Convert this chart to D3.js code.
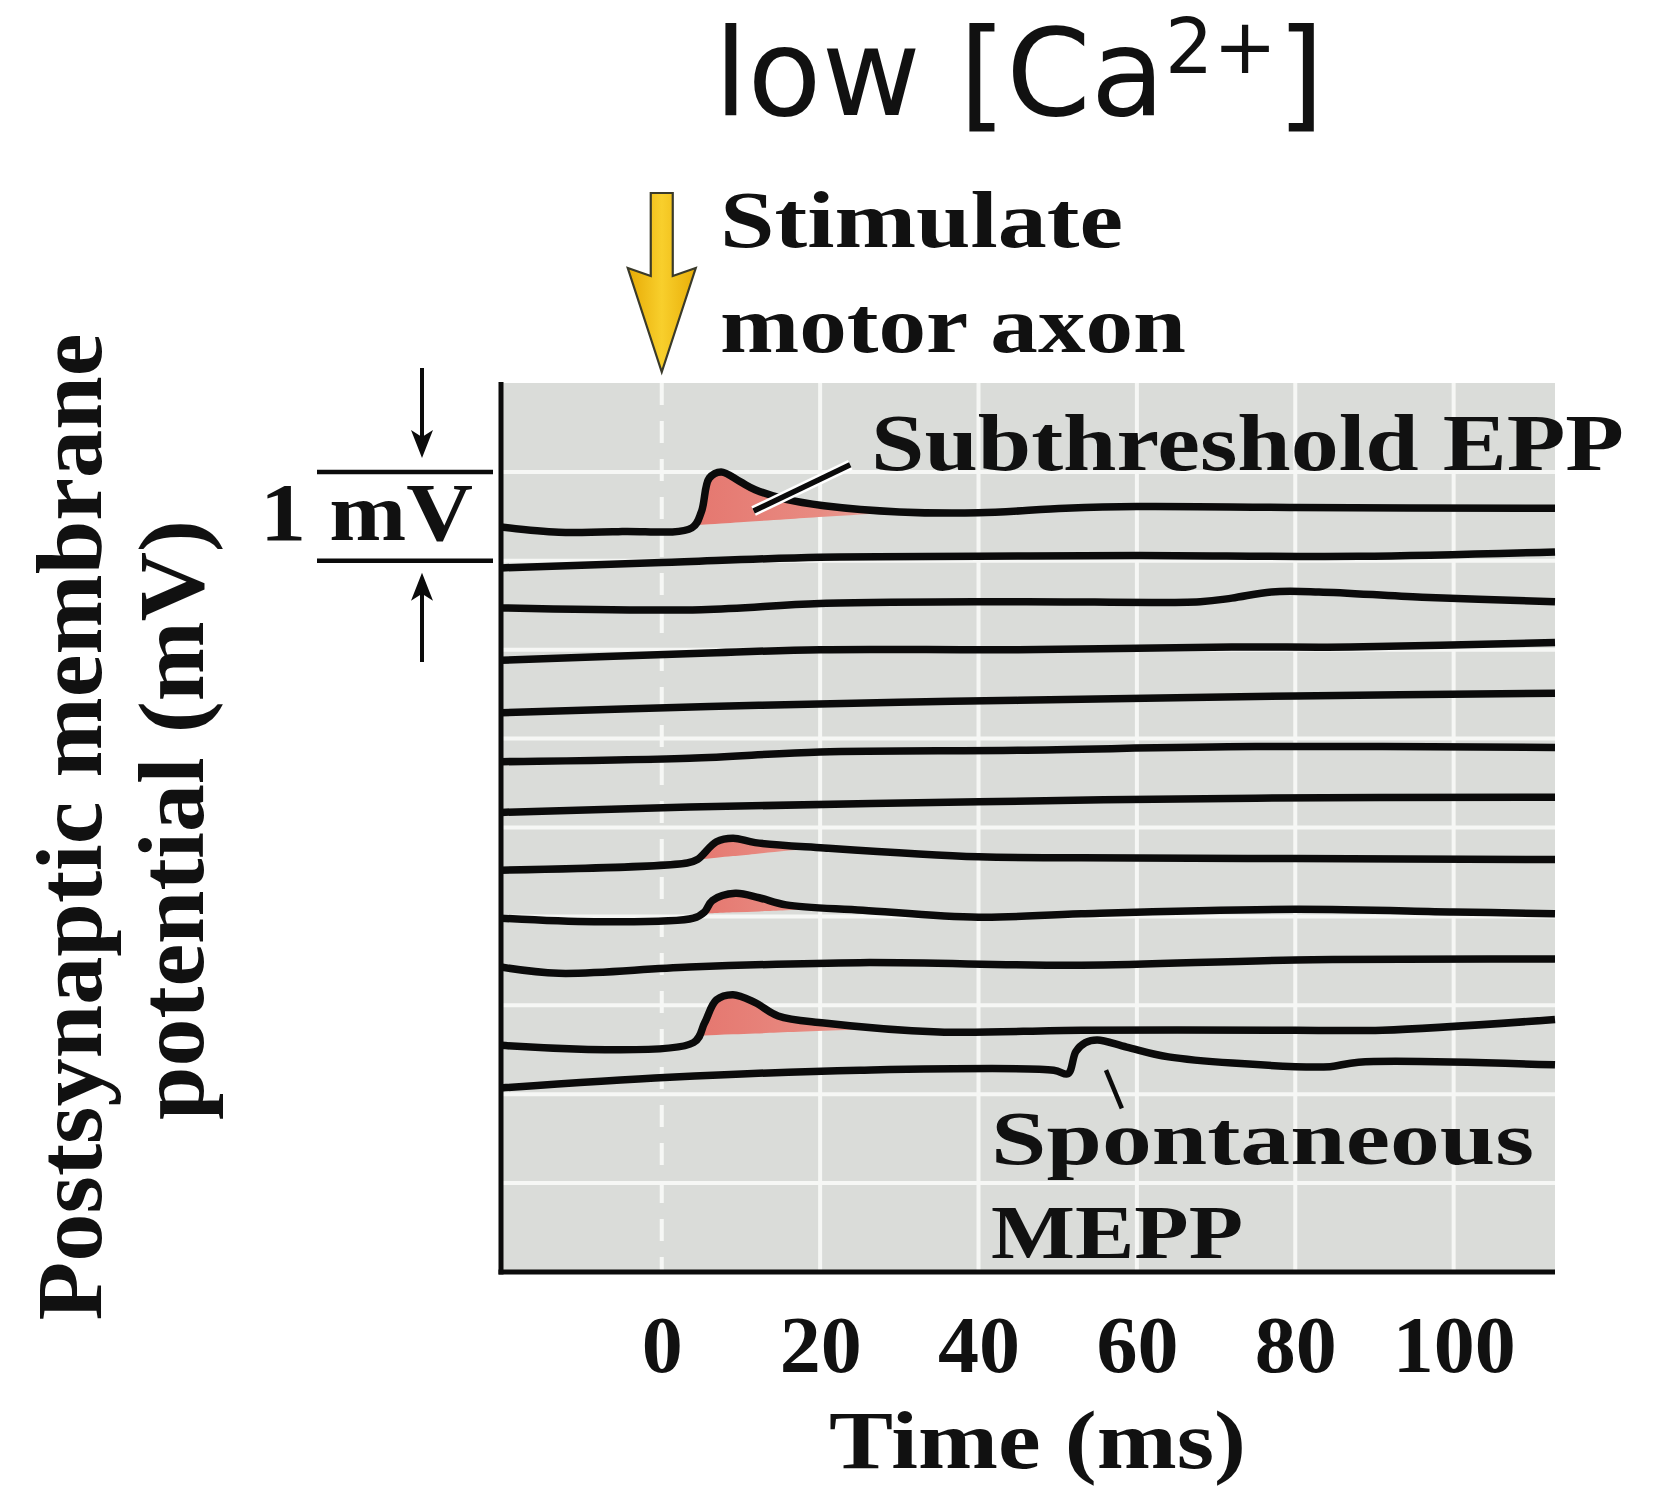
<!DOCTYPE html>
<html>
<head>
<meta charset="utf-8">
<script src="https://cdn.jsdelivr.net/npm/d3@7"></script>
<style>
  body { margin: 0; background: #fff; }
  text { fill: #111; }
</style>
</head>
<body>
<script>
// Time ticks (ms) and 1 mV gridlines
let timeTicks = [0, 20, 40, 60, 80, 100];
let gridMv = [1, 2, 3, 4, 5, 6, 7, 8, 9];

let sweep1  = [[-20.3, 8.38], [-13, 8.32], [-5, 8.33], [3.8, 8.37], [5.0, 8.55], [6.0, 8.93], [7.5, 9.0], [9.9, 8.89], [11.8, 8.80], [15.7, 8.69], [20.5, 8.62], [30, 8.55], [40, 8.54], [51, 8.59], [60, 8.61], [80, 8.60], [112.8, 8.59]];
let sweep2  = [[-20.3, 7.92], [0, 7.98], [20, 8.04], [40, 8.05], [60, 8.06], [88, 8.05], [112.8, 8.10]];
let sweep3  = [[-20.3, 7.47], [5, 7.45], [20, 7.52], [45, 7.54], [68, 7.54], [72, 7.58], [77, 7.65], [83, 7.65], [96, 7.59], [112.8, 7.54]];
let sweep4  = [[-20.3, 6.88], [5, 6.96], [20, 7.0], [45, 7.0], [72, 7.03], [87, 7.03], [112.8, 7.08]];
let sweep5  = [[-20.3, 6.29], [6, 6.36], [30, 6.41], [45, 6.43], [80, 6.48], [112.8, 6.51]];
let sweep6  = [[-20.3, 5.74], [3.5, 5.78], [20, 5.85], [45, 5.87], [75, 5.91], [112.8, 5.90]];
let sweep7  = [[-20.3, 5.17], [3.5, 5.23], [40, 5.29], [75, 5.33], [112.8, 5.34]];
let sweep8  = [[-20.3, 4.52], [3.2, 4.60], [4.5, 4.64], [6.9, 4.84], [9.0, 4.88], [11.8, 4.83], [20.5, 4.77], [40, 4.67], [53, 4.66], [80, 4.65], [112.8, 4.64]];
let sweep9  = [[-20.3, 3.98], [-8.5, 3.94], [4.0, 3.98], [5.4, 4.05], [6.4, 4.18], [9.3, 4.26], [12.3, 4.21], [15.7, 4.13], [25.4, 4.07], [40, 3.99], [53, 4.03], [80, 4.08], [100, 4.05], [112.8, 4.03]];
let sweep10 = [[-20.3, 3.43], [-13, 3.36], [3.5, 3.43], [25, 3.48], [53, 3.45], [80, 3.51], [112.8, 3.52]];
let sweep11 = [[-20.3, 2.55], [4.0, 2.58], [5.4, 2.80], [6.9, 3.06], [9.0, 3.12], [11.8, 3.03], [14.7, 2.88], [20.5, 2.80], [35, 2.70], [53, 2.72], [80, 2.72], [91, 2.72], [112.8, 2.84]];
let sweep12 = [[-20.3, 2.07], [1, 2.19], [25, 2.27], [49.5, 2.27], [51.3, 2.23], [52.3, 2.48], [53.5, 2.58], [55, 2.61], [58.7, 2.53], [64, 2.42], [80, 2.31], [84.4, 2.31], [88, 2.36], [112.8, 2.33]];
let sweeps = [sweep1, sweep2, sweep3, sweep4, sweep5, sweep6, sweep7, sweep8, sweep9, sweep10, sweep11, sweep12];

// Shaded EPPs: [sweep index, from ms, to ms]
let eppFills = [[0, 4.0, 30], [7, 4.5, 20], [8, 5.0, 22], [10, 4.5, 29]];

// Figure size
let svgWidth = 1664;
let svgHeight = 1488;

let svg = d3.select("body").append("svg")
  .attr("width", svgWidth)
  .attr("height", svgHeight);

let defs = svg.append("defs");

// Scales
let x = d3.scaleLinear().domain([-20.3, 112.8]).range([501, 1555]);
let y = d3.scaleLinear().domain([0, 10]).range([1272, 383]);

let serif = "'Liberation Serif', 'Times New Roman', serif";

// Grey panel
svg.append("rect")
  .attr("x", x(-20.3)).attr("y", y(10))
  .attr("width", x(112.8) - x(-20.3)).attr("height", y(0) - y(10))
  .attr("fill", "#dadcd9");

// White gridlines
svg.append("g").selectAll("line")
  .data(gridMv).join("line")
  .attr("x1", x(-20.3)).attr("x2", x(112.8))
  .attr("y1", d => y(d)).attr("y2", d => y(d))
  .attr("stroke", "#f6f7f5").attr("stroke-width", 4);

svg.append("g").selectAll("line")
  .data(timeTicks.filter(d => d !== 0)).join("line")
  .attr("x1", d => x(d)).attr("x2", d => x(d))
  .attr("y1", y(10)).attr("y2", y(0))
  .attr("stroke", "#f6f7f5").attr("stroke-width", 4);

// Stimulus time, dashed
svg.append("line")
  .attr("x1", x(0)).attr("x2", x(0))
  .attr("y1", y(10)).attr("y2", y(0))
  .attr("stroke", "#f6f7f5").attr("stroke-width", 4)
  .attr("stroke-dasharray", "22 16");

// Helpers
let curve = d3.curveCatmullRom.alpha(0.5);
let line = d3.line().x(d => x(d[0])).y(d => y(d[1])).curve(curve);

function valueAt(pts, t) {
  for (let i = 1; i < pts.length; i++) {
    if (t <= pts[i][0]) {
      let a = pts[i - 1], b = pts[i];
      return a[1] + (b[1] - a[1]) * (t - a[0]) / (b[0] - a[0]);
    }
  }
  return pts[pts.length - 1][1];
}

// Pink shading under EPPs
eppFills.forEach(function (f, i) {
  let pts = sweeps[f[0]];
  let v0 = valueAt(pts, f[1]);
  let v1 = valueAt(pts, f[2]);
  let base = t => v0 + (v1 - v0) * (t - f[1]) / (f[2] - f[1]);

  let g = defs.append("linearGradient").attr("id", "pink" + i)
    .attr("gradientUnits", "userSpaceOnUse")
    .attr("x1", x(f[1])).attr("x2", x(f[2])).attr("y1", 0).attr("y2", 0);
  g.append("stop").attr("offset", "0%").attr("stop-color", "#e5776f");
  g.append("stop").attr("offset", "60%").attr("stop-color", "#e88a81");
  g.append("stop").attr("offset", "100%").attr("stop-color", "#e6aba3");

  defs.append("clipPath").attr("id", "clip" + i)
    .append("rect")
    .attr("x", x(f[1])).attr("width", x(f[2]) - x(f[1]))
    .attr("y", 0).attr("height", svgHeight);
  let area = d3.area()
    .x(d => x(d[0]))
    .y0(d => y(base(d[0])))
    .y1(d => y(d[1]))
    .curve(curve);
  svg.append("path")
    .attr("d", area(pts))
    .attr("clip-path", "url(#clip" + i + ")")
    .attr("fill", "url(#pink" + i + ")");
});

// Sweeps
svg.append("g").selectAll("path")
  .data(sweeps).join("path")
  .attr("d", line)
  .attr("fill", "none")
  .attr("stroke", "#0b0b0b")
  .attr("stroke-width", 7.5)
  .attr("stroke-linejoin", "round");

// Leader lines
svg.append("line")
  .attr("x1", x(11.6)).attr("y1", y(8.56)).attr("x2", x(23.8)).attr("y2", y(9.08))
  .attr("stroke", "#fff").attr("stroke-width", 10.5);
svg.append("line")
  .attr("x1", x(11.6)).attr("y1", y(8.56)).attr("x2", x(23.8)).attr("y2", y(9.08))
  .attr("stroke", "#0b0b0b").attr("stroke-width", 5.5);
svg.append("line")
  .attr("x1", x(56.1)).attr("y1", y(2.27)).attr("x2", x(58.1)).attr("y2", y(1.84))
  .attr("stroke", "#0b0b0b").attr("stroke-width", 4.5);

// Axes
let xAxis = svg.append("g")
  .attr("transform", `translate(0, ${y(0)})`)
  .call(d3.axisBottom(x).tickValues(timeTicks).tickSize(0).tickSizeOuter(0));
xAxis.select(".domain").attr("stroke", "#0b0b0b").attr("stroke-width", 5)
  .attr("d", `M${x(-20.3) - 2.5},0H${x(112.8)}`);
xAxis.selectAll("text")
  .attr("y", 100).attr("dy", 0)
  .attr("font-family", serif).attr("font-weight", "bold").attr("font-size", 80)
  .attr("textLength", d => String(d).length * 41)
  .attr("lengthAdjust", "spacingAndGlyphs")
  .attr("fill", "#111");

let yAxis = svg.append("g")
  .attr("transform", `translate(${x(-20.3)}, 0)`)
  .call(d3.axisLeft(y).tickValues([]).tickSizeOuter(0));
yAxis.select(".domain").attr("stroke", "#0b0b0b").attr("stroke-width", 5)
  .attr("d", `M0,${y(10) - 1}V${y(0) + 2.5}`);

// Text helper
function label(txt, px, py, size, width) {
  let t = svg.append("text")
    .attr("x", px).attr("y", py)
    .attr("font-family", serif).attr("font-weight", "bold")
    .attr("font-size", size)
    .text(txt);
  if (width) t.attr("textLength", width).attr("lengthAdjust", "spacingAndGlyphs");
  return t;
}

label("Time (ms)", 829, 1468, 82, 417);
label("Stimulate", 720, 247, 80, 403);
label("motor axon", 720, 352, 80, 466);
label("Subthreshold EPP", 871, 470, 80, 753);
label("Spontaneous", 991, 1164, 76, 543);
label("MEPP", 991, 1258, 76, 252);
label("1 mV", 260, 540, 82, 213);

// Y axis title, two lines
svg.append("text")
  .attr("transform", "translate(101, 827) rotate(-90)")
  .attr("text-anchor", "middle")
  .attr("font-family", serif).attr("font-weight", "bold").attr("font-size", 94)
  .attr("textLength", 987).attr("lengthAdjust", "spacingAndGlyphs")
  .text("Postsynaptic membrane");
svg.append("text")
  .attr("transform", "translate(203, 820) rotate(-90)")
  .attr("text-anchor", "middle")
  .attr("font-family", serif).attr("font-weight", "bold").attr("font-size", 94)
  .attr("textLength", 600).attr("lengthAdjust", "spacingAndGlyphs")
  .text("potential (mV)");

// 1 mV scale bar
let barX0 = 317, barX1 = 493, arrowX = 422;
[9, 8].forEach(v => {
  svg.append("line")
    .attr("x1", barX0).attr("x2", barX1).attr("y1", y(v)).attr("y2", y(v))
    .attr("stroke", "#0b0b0b").attr("stroke-width", 4.5);
});
function smallArrow(tail, tip) {
  let dir = tip > tail ? 1 : -1;
  svg.append("line")
    .attr("x1", arrowX).attr("x2", arrowX)
    .attr("y1", tail).attr("y2", tip - dir * 20)
    .attr("stroke", "#0b0b0b").attr("stroke-width", 4);
  svg.append("path")
    .attr("d", `M${arrowX - 11},${tip - dir * 28}L${arrowX},${tip}L${arrowX + 11},${tip - dir * 28}L${arrowX},${tip - dir * 21}Z`)
    .attr("fill", "#0b0b0b");
}
smallArrow(368, y(9) - 14);
smallArrow(662, y(8) + 12);

// Stimulus arrow (yellow)
let ax = x(0);
let arrowGrad = defs.append("linearGradient").attr("id", "gold")
  .attr("x1", "0%").attr("x2", "100%");
arrowGrad.append("stop").attr("offset", "0%").attr("stop-color", "#e7aa05");
arrowGrad.append("stop").attr("offset", "50%").attr("stop-color", "#f8cf2c");
arrowGrad.append("stop").attr("offset", "100%").attr("stop-color", "#e9ae08");
svg.append("path")
  .attr("d", `M${ax - 11},193 L${ax + 11},193 L${ax + 11},276 L${ax + 34},268 L${ax},372 L${ax - 34},268 L${ax - 11},276 Z`)
  .attr("fill", "url(#gold)")
  .attr("stroke", "#3a3a2a").attr("stroke-width", 2.2)
  .attr("stroke-linejoin", "miter");

// Title
let title = svg.append("text")
  .attr("x", 714).attr("y", 115)
  .attr("font-family", "'DejaVu Sans', sans-serif")
  .attr("font-size", 121)
  .attr("fill", "#000");
title.append("tspan").text("low [Ca");
title.append("tspan").attr("font-size", 76).attr("dy", -42).text("2+");
title.append("tspan").attr("dy", 42).text("]");
</script>
</body>
</html>
